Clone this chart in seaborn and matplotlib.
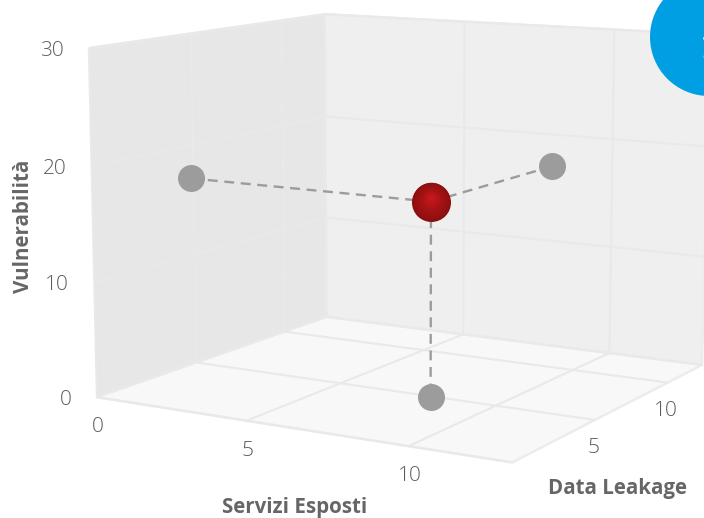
import numpy as np
import matplotlib
matplotlib.use('Agg')
import matplotlib.pyplot as plt
from matplotlib.patches import Circle
from mpl_toolkits.mplot3d import proj3d
import seaborn as sns

# Data
x_title, y_title, z_title = "Servizi Esposti", "Data Leakage", "Vulnerabilità"
x_ticks = [0, 5, 10]
y_ticks = [5, 10]
z_ticks = [0, 10, 20, 30]
x_range = (0, 13)
y_range = (0, 12.6)
z_range = (0, 30)
servizi = 8
leakage = 4.9
vulnerabilita = 17
badge_label = "1"

GRAY = '#9c9c9c'
TEXT = '#666666'

sns.set_style('white')
plt.rcParams['font.family'] = ['Open Sans', 'DejaVu Sans']
plt.rcParams['grid.color'] = '#e9e9e9'
plt.rcParams['grid.linewidth'] = 1.5

W, H = 704, 518
fig = plt.figure(figsize=(W / 100, H / 100), dpi=100, facecolor='white')
side = 694.66
ax = fig.add_axes([51.3 / W, -51.73 / H, side / W, side / H], projection='3d', computed_zorder=False)
ax.patch.set_alpha(0)
ax.set_xlim(*x_range, view_margin=0)
ax.set_ylim(*y_range, view_margin=0)
ax.set_zlim(*z_range, view_margin=0)
ax.view_init(elev=9.9, azim=-59.83, roll=-0.02)
ax.set_proj_type('persp', focal_length=0.626)
ax.set_box_aspect((1, 0.9216, 0.747))

ax.set_xticks(x_ticks)
ax.set_yticks([0] + y_ticks)
ax.set_zticks(z_ticks)
ax.set_xticklabels([])
ax.set_yticklabels([])
ax.set_zticklabels([])
ax.tick_params(axis='both', length=0, color=(0, 0, 0, 0))
ax.grid(True)

for axis, pane in ((ax.xaxis, '#e7e7e8'), (ax.yaxis, '#efefef'), (ax.zaxis, '#f8f8f8')):
    axis.set_pane_color(pane)
    axis.pane.set_edgecolor('#ececec')
    axis.pane.set_linewidth(1.8)
    axis.line.set_color((0, 0, 0, 0))

# Dashed connectors
dash = dict(color=GRAY, lw=1.7, dashes=(4.2, 2.8), zorder=3)
ax.plot([servizi, servizi], [leakage, leakage], [vulnerabilita, z_range[0]], **dash)
ax.plot([x_range[0], servizi], [leakage, leakage], [vulnerabilita, vulnerabilita], **dash)
ax.plot([servizi, servizi], [y_range[1], leakage], [vulnerabilita, vulnerabilita], **dash)

# Grey projections
ax.scatter([servizi, x_range[0], servizi], [leakage, leakage, y_range[1]],
           [z_range[0], vulnerabilita, vulnerabilita],
           s=(2 * 13.5 * 0.72) ** 2, c=GRAY, depthshade=False, linewidths=0, zorder=4)

# Red sphere: concentric discs from the palette
reds = sns.blend_palette(['#8c0f10', '#a51214', '#c8161d'], 24)
for i, col in enumerate(reds):
    t = i / 23
    ax.scatter([servizi], [leakage], [vulnerabilita + 0.35 * t],
               s=(2 * 19.5 * (1 - 0.9 * t) * 0.72) ** 2, color=[col],
               depthshade=False, linewidths=0, zorder=5 + i)

# Tick labels, offset from the projected axis positions
M = ax.get_proj()
def label(px, py, pz, text, dx, dy, **kw):
    vx, vy, _ = proj3d.proj_transform(px, py, pz, M)
    ax.annotate(text, (vx, vy), xytext=(dx * 0.72, -dy * 0.72), textcoords='offset points',
                fontsize=15, fontweight='light', color='#5c5c5c', annotation_clip=False, va='center', **kw)

for z in z_ticks:
    label(x_range[0], y_range[0], z, str(z), -25, 2.5, ha='right')
for x in x_ticks:
    label(x, y_range[0], z_range[0], str(x), 1, 30, ha='center')
for y in y_ticks:
    label(x_range[1], y, z_range[0], str(y), -1.5, 28.5, ha='center')

# Overlay in pixel space for titles and the badge
ov = fig.add_axes([0, 0, 1, 1], zorder=10)
ov.set_xlim(0, W)
ov.set_ylim(H, 0)
ov.axis('off')
ov.patch.set_alpha(0)
ov.add_patch(Circle((709, 37), 59, fc='#009fe3', ec='none'))
ov.text(699.6, 58, badge_label, color='white', fontsize=22, ha='left', va='baseline', family='DejaVu Sans')
title = dict(color=TEXT, fontsize=14.8, fontweight='bold', ha='center', va='center')
ov.text(295, 508, x_title, **title)
ov.text(617, 488.5, y_title, **title)
ov.text(24, 226, z_title, rotation=90, **title)

fig.savefig('out.png', dpi=100)
